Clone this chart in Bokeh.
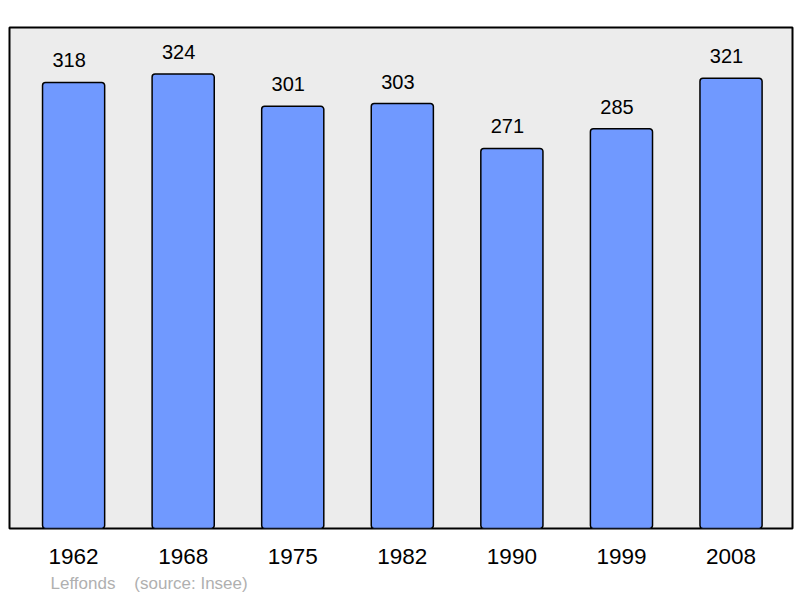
from bokeh.plotting import figure
from bokeh.models import ColumnDataSource, Range1d, FixedTicker, Title
from bokeh.core.properties import value
from bokeh.embed import file_html
from bokeh.resources import INLINE

years = ["1962", "1968", "1975", "1982", "1990", "1999", "2008"]
population = [318, 324, 301, 303, 271, 285, 321]
place = "Leffonds"
source_note = "(source: Insee)"

idx = list(range(len(years)))
src = ColumnDataSource(dict(x=idx, top=population, label=[str(v) for v in population]))

p = figure(width=800, height=598, output_backend="svg", toolbar_location=None,
           x_range=Range1d(-0.585, 6.561), y_range=Range1d(0, 357.2),
           min_border_left=9, min_border_right=8, min_border_top=27, min_border_bottom=70)

p.background_fill_color = "#ececec"
p.border_fill_color = "white"
p.outline_line_color = "black"
p.outline_line_width = 2
p.grid.visible = False
p.yaxis.visible = False

p.vbar(x="x", top="top", width=0.567, bottom=0, source=src,
       fill_color="#7099ff", line_color="black", line_width=1.5, border_radius=3)

p.text(x="x", y="top", text="label", source=src, x_offset=-4.5, y_offset=-22,
       text_align="center", text_baseline="alphabetic",
       text_font=value("Liberation Sans"), text_font_size="20px", text_color="black")

xa = p.xaxis[0]
xa.ticker = FixedTicker(ticks=idx)
xa.major_label_overrides = {i: y for i, y in enumerate(years)}
xa.axis_line_color = None
xa.major_tick_line_color = None
xa.minor_tick_line_color = None
xa.major_tick_out = 0
xa.major_tick_in = 0
xa.major_label_standoff = 20
xa.major_label_text_font = "Liberation Sans"
xa.major_label_text_font_size = "22.5px"
xa.major_label_text_color = "black"

t = Title(text=place + "\u00a0" * 4 + source_note, align="left", offset=41,
          text_font="Liberation Sans", text_font_size="17px", text_font_style="normal",
          text_color="#b0b0b0", standoff=10)
p.add_layout(t, "below")

open("out.html", "w").write(file_html(p, INLINE))
